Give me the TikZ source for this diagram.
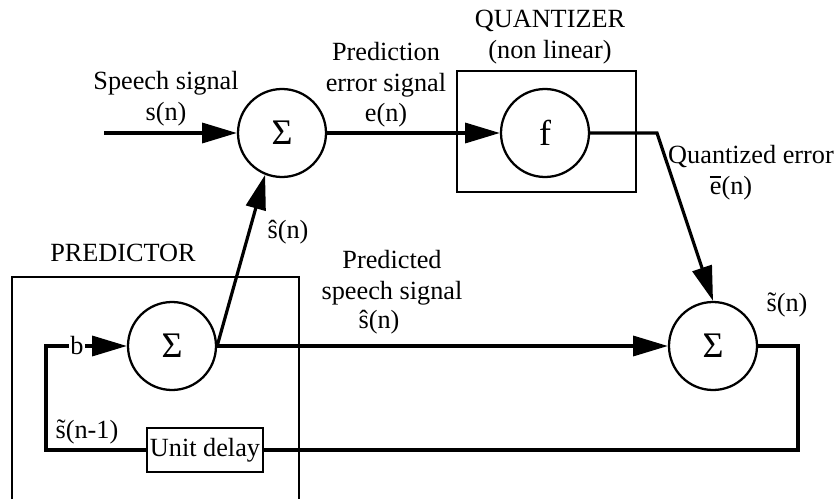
\documentclass[tikz,border=0pt]{standalone}
\usepackage{fontspec}
\setmainfont{Liberation Serif}
\usetikzlibrary{arrows.meta}

% heavy bar over a letter
\newcommand{\barof}[1]{\rlap{\rule[0.64em]{0.42em}{0.09em}}#1}

\tikzset{every picture/.style={line width=0.75pt}}
\tikzset{
  sumnode/.style={circle,draw,line width=1.7pt,minimum size=66pt,inner sep=0pt,font=\fontsize{27}{30}\selectfont},
  delaybox/.style={draw,line width=1.7pt,minimum width=87pt,minimum height=33pt,inner sep=0pt},
  wire/.style={line width=2.4pt},
  sig/.style={wire,-{Triangle[length=26pt,width=15pt]}},
  frame/.style={line width=2pt},
  txt/.style={inner sep=0.75pt,align=center}
}

\begin{document}
\begin{tikzpicture}[x=0.75pt,y=0.75pt,yscale=-1,xscale=1,font=\fontsize{19.7}{23}\selectfont]
\useasboundingbox (0,0) rectangle (834,499);

%Shape: Rectangle (quantizer)
\draw [frame] (457,71) rectangle (636,192);
%Shape: Open Rectangle (predictor, runs off the bottom)
\draw [frame] (12,499) -- (12,277) -- (299,277) -- (299,499);

%Shape: Circle
\node [sumnode] (sumA) at (282,133) {Σ};
\node [sumnode] (quant) at (545,133) {f};
\node [sumnode] (sumP) at (172,346) {Σ};
\node [sumnode] (sumB) at (713,346) {Σ};
%Shape: Rectangle
\node [delaybox] (delay) at (205,450) {Unit delay};
\node [inner sep=1pt] (gain) at (77,346) {b};

\coordinate (sin) at (104,133);
\coordinate (qbend) at (657,133);
\coordinate (fbk) at (798,450);
\coordinate (loop) at (46,346);

%Straight Lines
\draw [sig] (sin) -- (sumA);
\draw [sig] (sumA) -- (quant);
\draw [sig] (quant) -- (qbend) -- (sumB.north);
\draw [sig] (sumP.east) -- (sumA.248);
\draw [sig] (sumP) -- (sumB);
\draw [wire] (sumB) -| (fbk) -- (delay);
\draw [wire] (delay) -| (loop) -- (gain);
\draw [sig] (gain) -- (sumP);

% Text Node
\node [txt] (speech) at (166,99) {Speech signal\\s(n)};
% Text Node
\node [txt] (perr) at (386,85) {Prediction\\error signal\\e(n)};
% Text Node
\node [txt] (qname) at (550,37) {QUANTIZER\\(non linear)};
% Text Node
\node [txt] (qerr) at (751,157) {Quantized error};
% Text Node
\node [txt] (ebar) at (731,188) {\barof{e}(n)};
% Text Node
\node [txt] (shat) at (288,232) {\^{s}(n)};
% Text Node
\node [txt] (pname) at (123,253) {PREDICTOR};
% Text Node
\node [txt] (pred) at (392,278) {Predicted\\speech signal};
% Text Node
\node [txt] (phat) at (379,322) {\^{s}(n)};
% Text Node
\node [txt] (stil) at (787,305) {\~{s}(n)};
% Text Node
\node [txt] (stil1) at (87,432) {\~{s}(n-1)};

\end{tikzpicture}
\end{document}
